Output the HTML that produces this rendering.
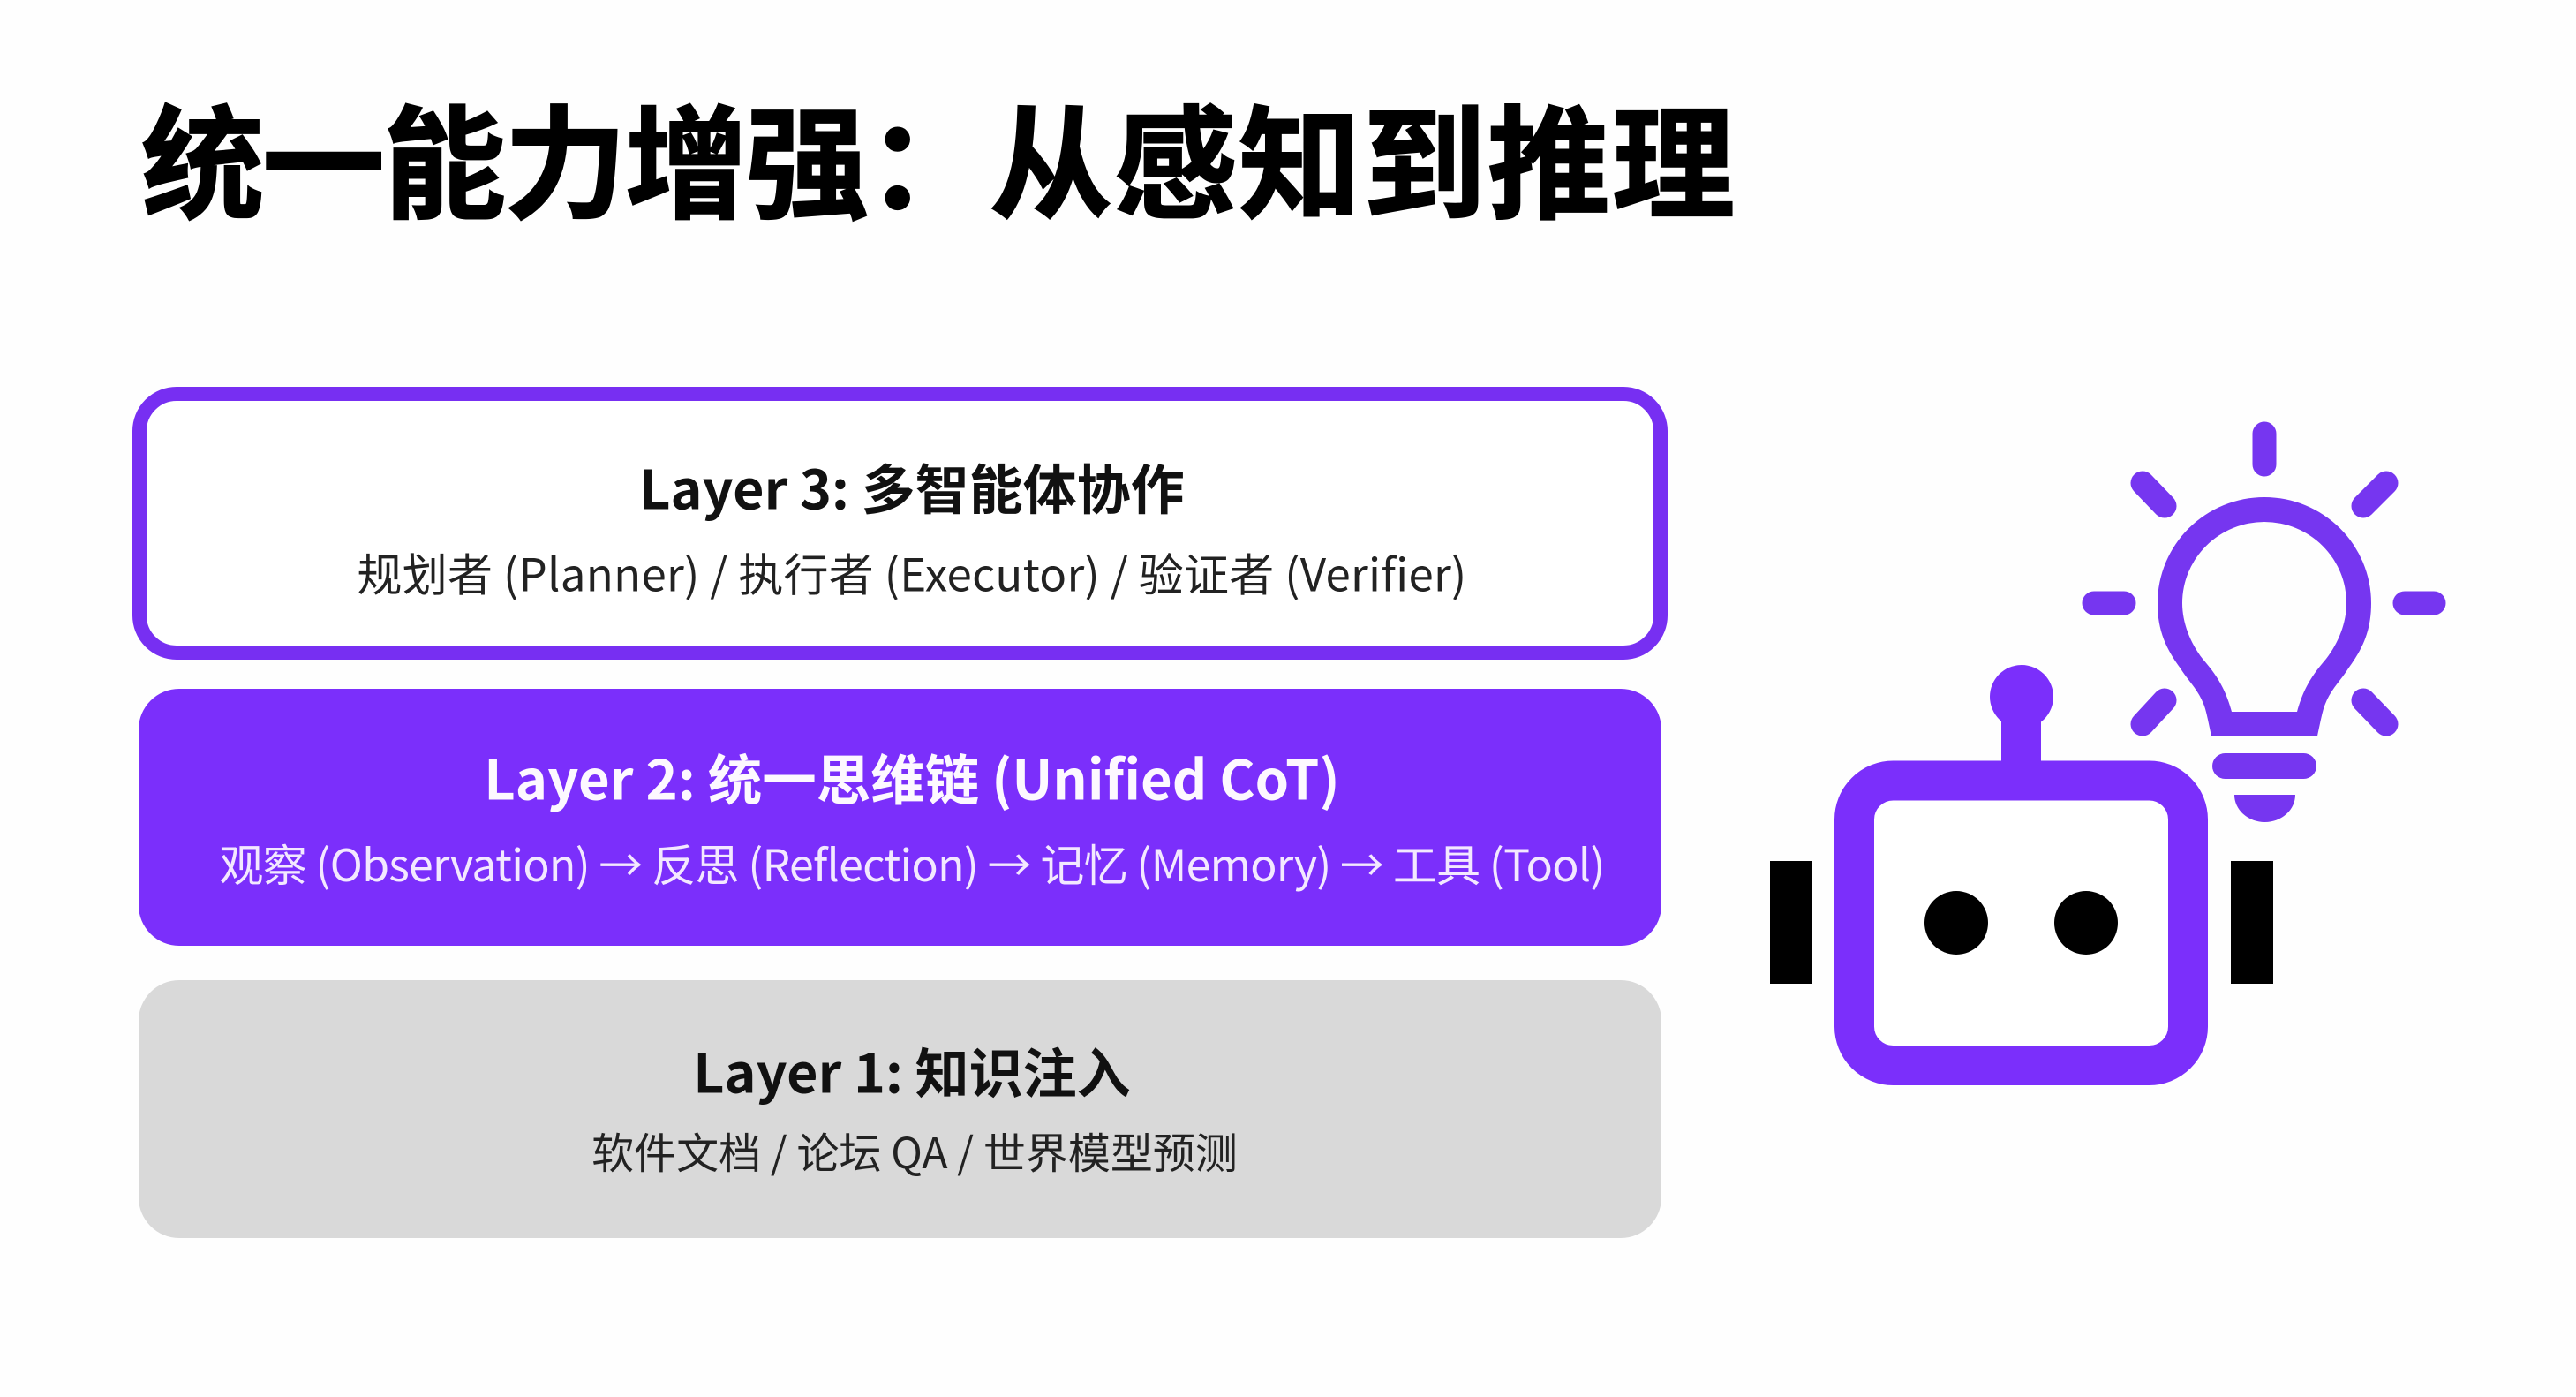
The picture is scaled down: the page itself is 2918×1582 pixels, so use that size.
<!DOCTYPE html>
<html lang="zh-CN">
<head>
<meta charset="utf-8">
<title>统一能力增强：从感知到推理</title>
<style>
html,body{margin:0;padding:0;background:#fefefe}
body{width:2918px;height:1582px;position:relative;overflow:hidden;font-family:"Noto Sans CJK SC","Liberation Sans",sans-serif}
.box{position:absolute;box-sizing:border-box}
.t{position:absolute;left:0;width:2066px;text-align:center;white-space:nowrap;line-height:1;transform:translateY(-50%)}
.h{font-weight:700}
.s{font-weight:400}
svg{position:absolute;left:0;top:0}
</style>
</head>
<body>
<div style="position:absolute;left:160px;top:107px;font-size:139px;line-height:140px;font-weight:700;color:#000;white-space:nowrap;-webkit-text-stroke:2px #000"><span style="letter-spacing:-2px">统一能力增强</span>：<span style="letter-spacing:2px">从感知到推理</span></div>

<div class="box" style="left:150px;top:438px;width:1739px;height:309px;border:16px solid #772ff2;border-radius:50px;background:#fff"></div>
<div class="box" style="left:157px;top:780px;width:1725px;height:291px;border-radius:46px;background:#7b2ffb"></div>
<div class="box" style="left:157px;top:1110px;width:1725px;height:292px;border-radius:46px;background:#d9d9d9"></div>

<div class="t h" style="top:550px;color:#111;font-size:61px">Layer 3: 多智能体协作</div>
<div class="t s" style="top:648px;color:#222;font-size:51px;letter-spacing:.27px">规划者 (Planner) / 执行者 (Executor) / 验证者 (Verifier)</div>
<div class="t h" style="top:879px;color:#fdf8ff;font-size:61.5px">Layer 2: 统一思维链 (Unified CoT)</div>
<div class="t s" style="top:977px;color:#f3e8ff;font-size:50px;letter-spacing:-.7px">观察 (Observation) → 反思 (Reflection) → 记忆 (Memory) → 工具 (Tool)</div>
<div class="t h" style="top:1211px;color:#111;font-size:61px">Layer 1: 知识注入</div>
<div class="t s" style="top:1302px;left:3px;color:#222;font-size:48px">软件文档 / 论坛 QA / 世界模型预测</div>

<svg width="2918" height="1582" viewBox="0 0 2918 1582">
  <rect x="2005" y="975" width="48" height="139" fill="#000"/>
  <rect x="2527" y="975" width="48" height="139" fill="#000"/>
  <circle cx="2290" cy="789" r="36" fill="#7b2ffb"/>
  <rect x="2267" y="805" width="45" height="70" fill="#7b2ffb"/>
  <rect x="2100.500" y="884" width="378" height="322.500" rx="44" fill="#fff" stroke="#7b2ffb" stroke-width="45"/>
  <circle cx="2216" cy="1045" r="36" fill="#000"/>
  <circle cx="2363" cy="1045" r="36" fill="#000"/>

  <path fill="#7636f0" fill-rule="evenodd" d="M2505 833.500C2501 815 2499 804 2496 797C2490 781 2478 770 2470 757C2454 735 2444 715 2444 683A121 120 0 0 1 2686 683C2686 715 2676 735 2660 757C2652 770 2640 781 2634 797C2631 804 2629 815 2625 833.500ZM2528 806H2602C2610 776 2623 760 2635 746C2649 728 2658 705 2658 683A93 92 0 0 0 2472 683C2472 705 2481 728 2495 746C2507 760 2520 776 2528 806Z"/>
  <rect x="2506" y="853" width="118" height="29" rx="14.500" fill="#7636f0"/>
  <path fill="#7636f0" d="M2531 900H2600A34.500 31 0 0 1 2531 900Z"/>
  <g stroke="#7636f0" stroke-width="27" stroke-linecap="round" fill="none">
    <path d="M2565 491V526"/>
    <path d="M2372 683H2406"/>
    <path d="M2724 683H2757"/>
    <path d="M2427 547L2452 573"/>
    <path d="M2703 547L2677 573"/>
    <path d="M2427 820L2452 793"/>
    <path d="M2703 820L2677 793"/>
  </g>
</svg>
</body>
</html>
